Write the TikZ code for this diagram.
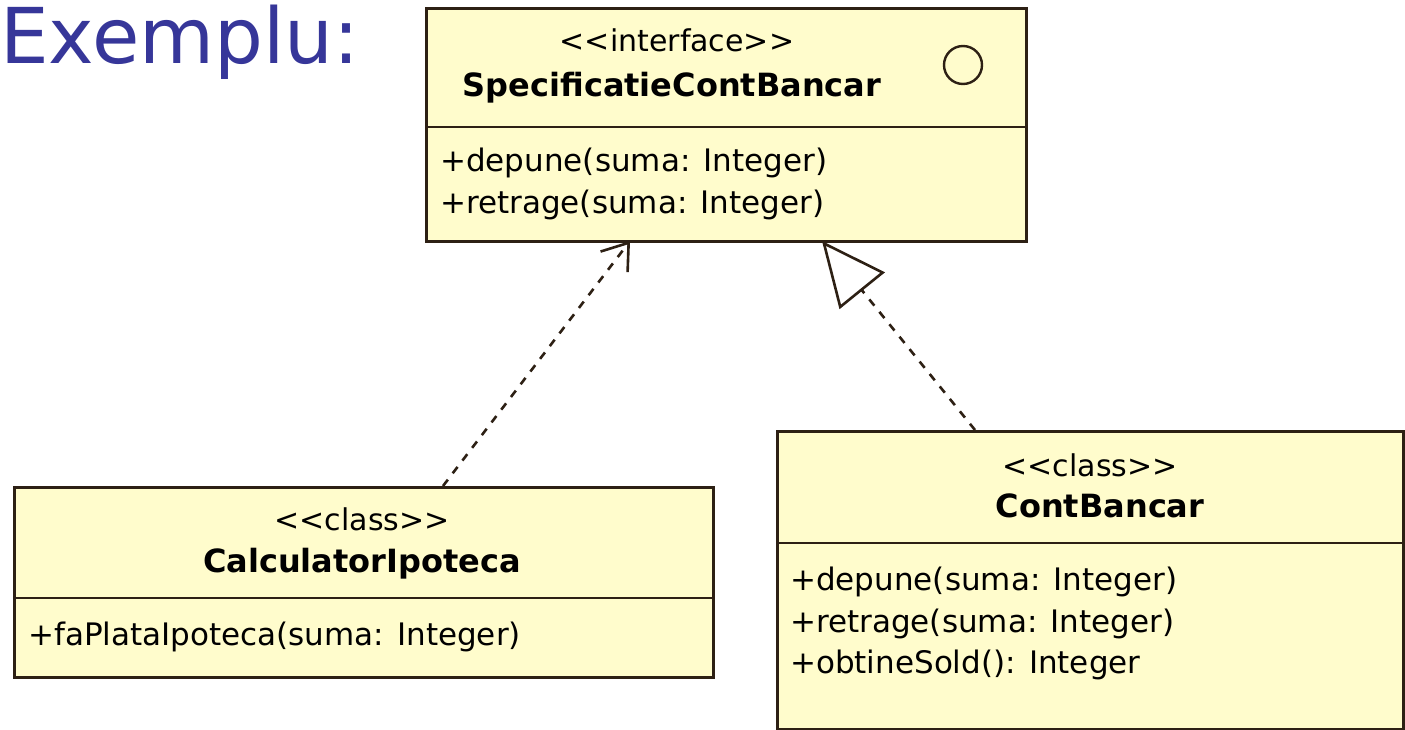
\documentclass[tikz,border=0pt]{standalone}
\usepackage{fontspec}
\setmainfont{DejaVu Sans}
\usetikzlibrary{arrows.meta}
\definecolor{umlfill}{RGB}{255,252,204}
\definecolor{umlline}{RGB}{45,32,20}
\definecolor{titleblue}{RGB}{54,54,153}
\tikzset{
  umlbox/.style={draw=umlline, fill=umlfill, line width=2.8pt, rectangle, inner sep=0pt, anchor=north west},
  divider/.style={draw=umlline, line width=2.8pt},
  stereo/.style={anchor=base, inner sep=0pt, font=\fontsize{30}{34}\selectfont},
  cname/.style={anchor=base, inner sep=0pt, font=\fontsize{32}{36}\selectfont\bfseries},
  meth/.style={anchor=base west, inner sep=0pt, font=\fontsize{31}{34}\selectfont},
  conn/.style={draw=umlline, line width=2.6pt, dash pattern=on 8pt off 8pt}
}
\begin{document}
\begin{tikzpicture}[x=1pt,y=-1pt]
\useasboundingbox (0,0) rectangle (1405,730);
\clip (0,0) rectangle (1405,730);
\fill[white] (0,0) rectangle (1405,730);

% title
\node[anchor=base west, inner sep=0pt, text=titleblue, font=\fontsize{77}{90}\selectfont] (title) at (0,64) {Exemplu:};

% interface box
\node[umlbox, minimum width=600pt, minimum height=233pt] (iface) at (425,7) {};
\draw[divider] (425,127) -- (1025,127);
\node[stereo] (ifst) at (677,52) {<{}<interface>{}>};
\node[cname] (ifname) at (672,97) {SpecificatieContBancar};
\node[draw=umlline, line width=2.4pt, circle, minimum size=38pt, inner sep=0pt] (ifcirc) at (963,65) {};
\node[meth] (ifm1) at (440,172) {+depune(suma: Integer)};
\node[meth] (ifm2) at (440,214) {+retrage(suma: Integer)};

% CalculatorIpoteca
\node[umlbox, minimum width=699pt, minimum height=190pt] (calc) at (13,486) {};
\draw[divider] (13,598) -- (712,598);
\node[stereo] (calcst) at (362,530) {<{}<class>{}>};
\node[cname] (calcname) at (362,572) {CalculatorIpoteca};
\node[meth] (calcm1) at (28,645) {+faPlataIpoteca(suma: Integer)};

% ContBancar
\node[umlbox, minimum width=626pt, minimum height=298pt] (cont) at (776,430) {};
\draw[divider] (776,543) -- (1402,543);
\node[stereo] (contst) at (1090,476) {<{}<class>{}>};
\node[cname] (contname) at (1100,517) {ContBancar};
\node[meth] (contm1) at (790,590) {+depune(suma: Integer)};
\node[meth] (contm2) at (790,632) {+retrage(suma: Integer)};
\node[meth] (contm3) at (790,673) {+obtineSold(): Integer};

% connector end points
\coordinate (depA) at (443,486);
\coordinate (depB) at (630,241);
\coordinate (realA) at (975,430);
\coordinate (realB) at (822,241);

\draw[conn, -{Straight Barb[length=24pt,width=34pt,line width=2.6pt]}] (depA) -- (depB);
\draw[conn, -{Triangle[open,length=64pt,width=58pt,line width=2.6pt]}] (realA) -- (realB);
\end{tikzpicture}
\end{document}
